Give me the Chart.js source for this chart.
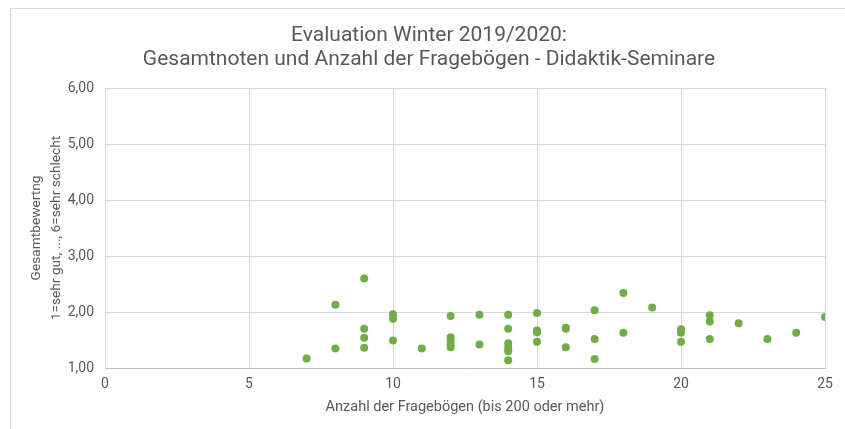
<!DOCTYPE html>
<html>
<head>
<meta charset="utf-8">
<script src="https://cdn.jsdelivr.net/npm/chart.js@4"></script>
<style>
  body { margin: 0; background: #fff; }
  #rahmen { position: absolute; left: 10px; top: 8px; width: 860px; height: 440px; border: 1px solid #d9d9d9; }
  #wrap { position: absolute; left: 0; top: 0; width: 845px; height: 429px; }
</style>
</head>
<body>
<div id="rahmen"></div>
<div id="wrap"><canvas id="myChart"></canvas></div>
<script>
// Anzahl der Fragebögen je Seminar und die Gesamtnote
const anzahl = [7, 8, 8, 9, 9, 9, 9, 10, 10, 10, 11, 12, 12, 12, 12, 12, 13, 13,
	14, 14, 14, 14, 14, 14, 15, 15, 15, 15, 16, 16, 16, 17, 17, 17, 18, 18, 19,
	20, 20, 20, 21, 21, 21, 22, 23, 24, 25];
const noten = [1.17, 2.13, 1.35, 2.60, 1.70, 1.54, 1.36, 1.96, 1.88, 1.49, 1.35,
	1.93, 1.55, 1.49, 1.42, 1.37, 1.95, 1.42, 1.95, 1.70, 1.44, 1.36, 1.30, 1.14,
	1.98, 1.67, 1.64, 1.47, 1.72, 1.70, 1.37, 2.03, 1.52, 1.16, 2.34, 1.63, 2.08,
	1.69, 1.63, 1.47, 1.94, 1.83, 1.52, 1.80, 1.52, 1.63, 1.91];
const titel = ["Evaluation Winter 2019/2020:", "Gesamtnoten und Anzahl der Fragebögen - Didaktik-Seminare"];
const yTitel = ["Gesamtbewertng", "1=sehr gut, ..., 6=sehr schlecht"];
const xTitel = "Anzahl der Fragebögen (bis 200 oder mehr)";

const grau = "#595959";
const schrift = "Roboto, 'Noto Sans', sans-serif";

const punkte = anzahl.map((a, i) => ({ x: a, y: noten[i] }));

const ctx = document.getElementById("myChart");

let grafico = new Chart(ctx, {
	type: "scatter",
	data: {
		datasets: [
			{
				data: punkte,
				backgroundColor: "#70ad47",
				borderColor: "#70ad47",
				borderWidth: 0,
				pointRadius: 4,
			},
		],
	},
	options: {
		responsive: true,
		maintainAspectRatio: false,
		animation: false,
		layout: { padding: { left: 13, right: 0, top: 0, bottom: 0 } },
		plugins: {
			legend: { display: false },
			tooltip: { enabled: false },
			title: {
				display: true,
				text: titel,
				color: grau,
				font: { family: schrift, size: 21, weight: "normal", lineHeight: "24px" },
				padding: { top: 24, bottom: 16 },
			},
		},
		scales: {
			x: {
				type: "linear",
				min: 0,
				max: 25,
				ticks: { stepSize: 5, color: grau, padding: 8, font: { family: schrift, size: 14 } },
				grid: { color: "#d9d9d9", drawTicks: false },
				border: { color: "#bfbfbf" },
				title: {
					display: true,
					text: xTitel,
					color: grau,
					font: { family: schrift, size: 14.5, lineHeight: 1.2 },
					padding: { top: 0, bottom: 13 },
				},
				afterFit: (s) => { s.height = 61; },
			},
			y: {
				min: 1,
				max: 6,
				ticks: {
					stepSize: 1,
					color: grau,
					padding: 11,
					font: { family: schrift, size: 14 },
					callback: (v) => v.toFixed(2).replace(".", ","),
				},
				grid: { color: "#d9d9d9", drawTicks: false },
				border: { display: false },
				title: {
					display: true,
					text: yTitel,
					color: grau,
					font: { family: schrift, size: 13.7, lineHeight: "20px" },
					padding: { top: 14, bottom: 0 },
				},
				afterFit: (s) => { s.width = 92; },
			},
			// leerer Rand rechts
			rechts: {
				position: "right",
				display: true,
				ticks: { display: false },
				grid: { display: false },
				border: { display: false },
				afterFit: (s) => { s.width = 20; },
			},
		},
	},
});
</script>
</body>
</html>
